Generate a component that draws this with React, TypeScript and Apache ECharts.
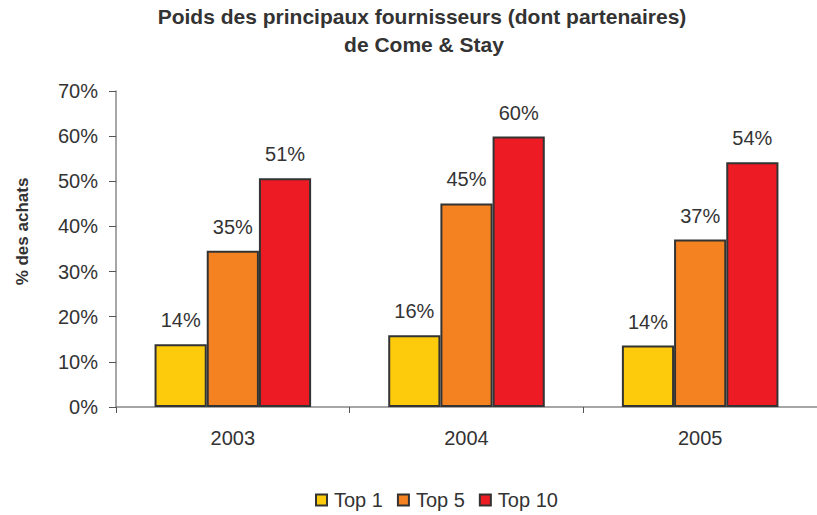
import React, { useEffect, useRef } from "react";
import * as echarts from "echarts";

const categories = ["2003", "2004", "2005"];
const top1 = [13.9, 15.9, 13.6];
const top5 = [34.6, 45.1, 37.1];
const top10 = [50.7, 59.9, 54.2];
const seriesNames = ["Top 1", "Top 5", "Top 10"];
const titleLines = ["Poids des principaux fournisseurs (dont partenaires)", "de Come & Stay"];
const yAxisTitle = "% des achats";
const colors = ["#FDCB0B", "#F58220", "#ED1C24"];

const FONT = "Liberation Sans, Arial, Helvetica, sans-serif";

export default function App() {
  const ref = useRef<HTMLDivElement>(null);
  useEffect(() => {
    document.body.style.margin = "0";
    if (!ref.current) return;
    const chart = echarts.init(ref.current, undefined, { renderer: "svg" });
    const data = [top1, top5, top10];
    chart.setOption({
      animation: false,
      backgroundColor: "#fff",
      textStyle: { fontFamily: FONT },
      graphic: [
        {
          type: "text",
          x: 422,
          y: 16.6,
          style: {
            text: titleLines[0],
            font: `bold 21px ${FONT}`,
            fill: "#333",
            align: "center",
            verticalAlign: "middle",
          },
        },
        {
          type: "text",
          x: 424,
          y: 44.6,
          style: {
            text: titleLines[1],
            font: `bold 21px ${FONT}`,
            fill: "#333",
            align: "center",
            verticalAlign: "middle",
          },
        },
        {
          type: "text",
          x: 22.5,
          y: 231.5,
          rotation: Math.PI / 2,
          style: {
            text: yAxisTitle,
            font: `bold 17px ${FONT}`,
            fill: "#333",
            align: "center",
            verticalAlign: "middle",
          },
        },
      ],
      legend: {
        left: 315,
        top: 490,
        padding: 0,
        itemWidth: 11,
        itemHeight: 11,
        itemGap: 14,
        icon: "rect",
        textStyle: { fontSize: 20, color: "#333", fontFamily: FONT, padding: [0, 0, 0, 2] },
        data: seriesNames,
      },
      grid: { left: 116, top: 91, height: 316, width: 709, containLabel: false },
      xAxis: {
        type: "category",
        data: categories,
        axisLine: { lineStyle: { color: "#888", width: 1.5 } },
        axisTick: { show: true, length: 6, lineStyle: { color: "#555" } },
        axisLabel: { fontSize: 20, color: "#333", margin: 21, fontFamily: FONT },
      },
      yAxis: {
        type: "value",
        min: 0,
        max: 70,
        interval: 10,
        splitLine: { show: false },
        axisLine: { show: true, lineStyle: { color: "#888", width: 1.5 } },
        axisTick: { show: true, length: 7, lineStyle: { color: "#555" } },
        axisLabel: { fontSize: 20, color: "#333", margin: 18, formatter: "{value}%", fontFamily: FONT },
      },
      series: seriesNames.map((name, i) => ({
        name,
        type: "bar",
        data: data[i],
        barGap: "0%",
        barCategoryGap: "33%",
        itemStyle: { color: colors[i], borderColor: "#333", borderWidth: 2 },
        label: {
          show: true,
          position: "top",
          distance: 14,
          fontSize: 20,
          color: "#333",
          fontFamily: FONT,
          formatter: (p: any) => Math.round(p.value) + "%",
        },
      })),
    });
    return () => chart.dispose();
  }, []);
  return <div ref={ref} style={{ width: 817, height: 515, overflow: "hidden" }} />;
}
